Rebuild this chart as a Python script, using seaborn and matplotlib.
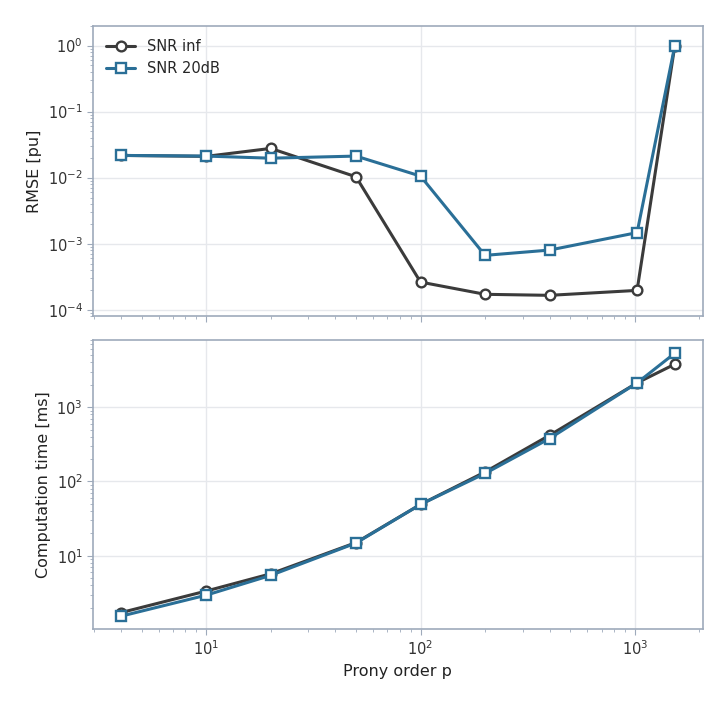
import numpy as np
import pandas as pd
import matplotlib
matplotlib.use("Agg")
import matplotlib.pyplot as plt
import seaborn as sns

# Prony order values
order_p = [4, 10, 20, 50, 100, 200, 400, 1024, 1536]

# RMSE [pu]
rmse_inf = [0.0217, 0.021, 0.0277, 0.0103, 2.62e-4, 1.71e-4, 1.65e-4, 1.96e-4, 1.0]
rmse_20db = [0.0217, 0.0212, 0.0197, 0.0212, 0.01055, 6.65e-4, 8.0e-4, 1.47e-3, 1.0]

# Computation time [ms]
time_inf = [1.71, 3.34, 5.7, 15.0, 49.0, 134.0, 418.0, 2120.0, 3790.0]
time_20db = [1.53, 2.94, 5.43, 14.8, 49.0, 128.0, 378.0, 2120.0, 5330.0]

series_names = ["SNR inf", "SNR 20dB"]
colors = ["#3b3b3b", "#2a6f97"]
markers = ["o", "s"]

df_rmse = pd.DataFrame({"p": order_p, "SNR inf": rmse_inf, "SNR 20dB": rmse_20db})
df_time = pd.DataFrame({"p": order_p, "SNR inf": time_inf, "SNR 20dB": time_20db})

sns.set_style("whitegrid")
spine_col = "#9eaabb"
plt.rcParams["font.family"] = ["DejaVu Sans"]

fig = plt.figure(figsize=(7.28, 7.04), dpi=100)
ax1 = fig.add_axes([0.128, 0.551, 0.837, 0.4125])
ax2 = fig.add_axes([0.128, 0.106, 0.837, 0.411], sharex=ax1)

for ax, df in [(ax1, df_rmse), (ax2, df_time)]:
    for name, col, mk in zip(series_names, colors, markers):
        sns.lineplot(data=df, x="p", y=name, ax=ax, color=col, marker=mk,
                     markersize=7, markerfacecolor="white", markeredgecolor=col,
                     markeredgewidth=1.7, linewidth=2.2, label=name)
    ax.set_xscale("log")
    ax.set_yscale("log")
    ax.grid(True, which="major", color="#e6e8ec", linewidth=1)
    ax.grid(False, which="minor")
    for s in ax.spines.values():
        s.set_color(spine_col)
        s.set_linewidth(1.2)
    ax.tick_params(axis="both", which="both", colors=spine_col, labelcolor="#333333",
                   labelsize=10.5, bottom=True, left=True)
    ax.tick_params(which="major", length=4)
    ax.tick_params(which="minor", length=2)

ax1.set_ylim(8e-5, 2.0)
ax1.set_ylabel("RMSE [pu]", fontsize=11.5, color="#222222")
ax1.set_xlabel("")
ax1.tick_params(labelbottom=False)
ax1.legend(loc="upper left", frameon=False, fontsize=10.5)

ax2.set_ylabel("Computation time [ms]", fontsize=11.5, color="#222222")
ax2.set_xlabel("Prony order p", fontsize=11.5, color="#222222")
ax2.legend().remove()

fig.savefig("out.png", dpi=100)
